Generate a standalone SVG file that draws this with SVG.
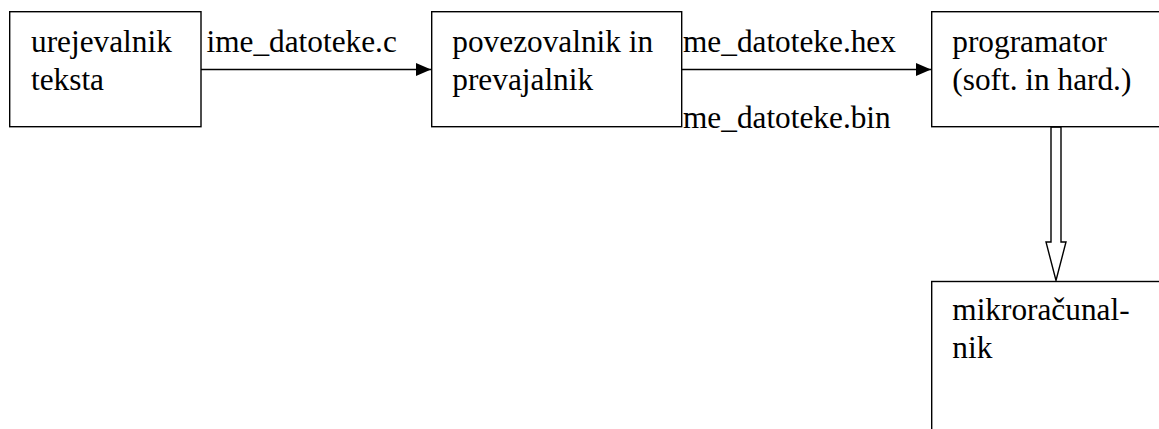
<svg xmlns="http://www.w3.org/2000/svg" width="1159" height="429" viewBox="0 0 1159 429">
  <style>
    .box { fill: #fff; stroke: #000; stroke-width: 1.4; }
    .lbl { font-family: 'Liberation Serif', 'Times New Roman', Times, serif; font-size: 31.3px; fill: #000; }
    .line { stroke: #000; stroke-width: 1.4; fill: none; }
    .block { fill: #fff; stroke: #000; stroke-width: 1.4; stroke-linejoin: miter; }
  </style>
  <defs>
    <marker id="arrow" markerUnits="userSpaceOnUse" markerWidth="16" markerHeight="13" refX="15" refY="6.5" orient="auto">
      <path d="M0,0 L15,6.5 L0,13 Z" fill="#000"/>
    </marker>
  </defs>
  <rect width="1159" height="429" fill="#fff"/>

  <!-- connectors and edge labels -->
  <g id="connectors">
    <line class="line" x1="201" y1="69.5" x2="431" y2="69.5" marker-end="url(#arrow)"/>
    <text class="lbl" x="206.5" y="51.7">ime_datoteke.c</text>
    <line class="line" x1="682" y1="69.5" x2="931" y2="69.5" marker-end="url(#arrow)"/>
    <text class="lbl" x="683" y="51.7">me_datoteke.hex</text>
    <text class="lbl" x="683" y="127.7">me_datoteke.bin</text>
    <!-- hollow block arrow from programator down to mikroračunalnik -->
    <polygon class="block" points="1051,127 1061,127 1061,242 1066,242 1056,280.5 1046,242 1051,242"/>
  </g>

  <g id="node-urejevalnik">
    <rect class="box" x="9.7" y="11.7" width="191.3" height="115"/>
    <text class="lbl" x="31" y="51.7">urejevalnik</text>
    <text class="lbl" x="31" y="89.5">teksta</text>
  </g>

  <g id="node-povezovalnik">
    <rect class="box" x="431.7" y="11.7" width="250" height="115"/>
    <text class="lbl" x="452.3" y="51.7">povezovalnik in</text>
    <text class="lbl" x="452.3" y="89.5">prevajalnik</text>
  </g>

  <g id="node-programator">
    <rect class="box" x="931.7" y="11.7" width="240" height="115"/>
    <text class="lbl" x="952.3" y="51.7">programator</text>
    <text class="lbl" x="952.3" y="89.5">(soft. in hard.)</text>
  </g>

  <g id="node-mikroracunalnik">
    <rect class="box" x="931.7" y="281.5" width="240" height="160"/>
    <text class="lbl" x="952.3" y="320">mikroračunal-</text>
    <text class="lbl" x="952.3" y="358">nik</text>
  </g>
</svg>
